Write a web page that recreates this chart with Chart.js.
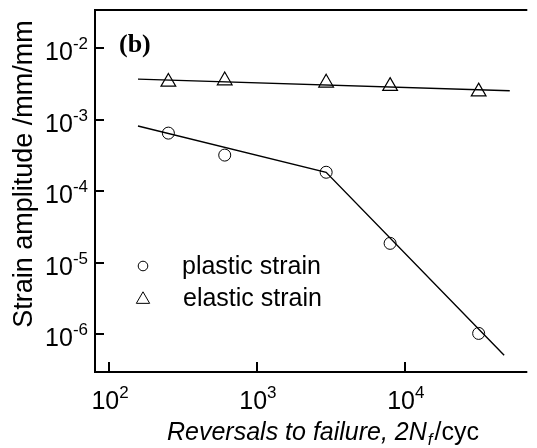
<!DOCTYPE html>
<html>
<head>
<meta charset="utf-8">
<script src="https://cdn.jsdelivr.net/npm/chart.js@4.4.1/dist/chart.umd.min.js"></script>
<style>
  html, body { margin: 0; padding: 0; background: #fff; overflow: hidden; }
  #cv { display: block; }
</style>
</head>
<body>
<canvas id="cv" width="537" height="448"></canvas>
<script>
// reversals to failure, 2Nf
const reversals = [252, 606, 2940, 7960, 31600];
const plasticStrain = [6.5e-4, 3.2e-4, 1.84e-4, 1.86e-5, 1.02e-6];
const elasticStrain = [3.38e-3, 3.54e-3, 3.29e-3, 2.96e-3, 2.48e-3];

// fit lines: plastic is bilinear with a knee, elastic is a single line
const plasticFitX = [157, 2940, 47000];
const plasticFitY = [8.17e-4, 1.84e-4, 5.06e-7];
const elasticFitX = [157, 51300];
const elasticFitY = [3.71e-3, 2.55e-3];

const xTicks = [1e2, 1e3, 1e4];
const yTicks = [1e-2, 1e-3, 1e-4, 1e-5, 1e-6];
const xRange = [80.4, 67400];
const yRange = [2.94e-7, 3.44e-2];

const SANS = '"Liberation Sans", Arial, sans-serif';
const SERIF = '"Liberation Serif", "Times New Roman", serif';

const pts = (xs, ys) => xs.map((v, i) => ({ x: v, y: ys[i] }));

// "10" with a raised exponent; y is the baseline of "10"
function powLabel(ctx, exp, x, y, align) {
  ctx.font = '25px ' + SANS;
  const wb = ctx.measureText('10').width;
  ctx.font = '17px ' + SANS;
  const we = ctx.measureText(exp).width;
  const x0 = align === 'right' ? x - wb - we : x - (wb + we) / 2;
  ctx.textAlign = 'left';
  ctx.textBaseline = 'alphabetic';
  ctx.font = '25px ' + SANS;
  ctx.fillText('10', x0, y);
  ctx.font = '17px ' + SANS;
  ctx.fillText(exp, x0 + wb, y - 11);
}

function triangle(ctx, x, y, r) {
  let rad = 0;
  ctx.beginPath();
  for (let i = 0; i < 3; i++) {
    const px = x + Math.sin(rad) * r, py = y - Math.cos(rad) * r;
    i ? ctx.lineTo(px, py) : ctx.moveTo(px, py);
    rad += Math.PI * 2 / 3;
  }
  ctx.closePath();
  ctx.stroke();
}

const frame = {
  id: 'frame',
  afterDraw(chart) {
    const { ctx, chartArea: a } = chart;
    const sx = chart.scales.x, sy = chart.scales.y;
    ctx.save();
    ctx.strokeStyle = '#000';
    ctx.fillStyle = '#000';

    // open frame: top, left, bottom
    ctx.lineWidth = 2;
    ctx.beginPath();
    ctx.moveTo(a.right, a.top); ctx.lineTo(a.left, a.top);
    ctx.lineTo(a.left, a.bottom); ctx.lineTo(a.right, a.bottom);
    ctx.stroke();

    // inward ticks
    ctx.lineWidth = 2;
    ctx.beginPath();
    xTicks.forEach(v => {
      const px = Math.round(sx.getPixelForValue(v));
      ctx.moveTo(px, a.bottom); ctx.lineTo(px, a.bottom - 10);
    });
    yTicks.forEach(v => {
      const py = Math.round(sy.getPixelForValue(v));
      ctx.moveTo(a.left, py); ctx.lineTo(a.left + 9, py);
    });
    ctx.stroke();

    // tick labels
    xTicks.forEach(v => {
      powLabel(ctx, String(Math.round(Math.log10(v))), sx.getPixelForValue(v) + 1, a.bottom + 37, 'center');
    });
    yTicks.forEach(v => {
      powLabel(ctx, String(Math.round(Math.log10(v))), a.left - 7, sy.getPixelForValue(v) + 12, 'right');
    });

    // x title
    let tx = 167;
    const ty = 440;
    ctx.textAlign = 'left';
    ctx.textBaseline = 'alphabetic';
    ctx.font = 'italic 25px ' + SANS;
    ctx.fillText('Reversals to failure, 2N', tx, ty);
    tx += ctx.measureText('Reversals to failure, 2N').width;
    ctx.font = 'italic 17px ' + SANS;
    ctx.fillText('f', tx + 1, ty + 5);
    tx += ctx.measureText('f').width + 3;
    ctx.font = '25px ' + SANS;
    ctx.fillText('/cyc', tx, ty);

    // y title
    ctx.save();
    ctx.translate(32, 174);
    ctx.rotate(-Math.PI / 2);
    ctx.textAlign = 'center';
    ctx.font = '27px ' + SANS;
    ctx.fillText('Strain amplitude /mm/mm', 0, 0);
    ctx.restore();

    // panel tag
    ctx.font = 'bold 26px ' + SERIF;
    ctx.fillText('(b)', 119, 52);

    // legend
    ctx.lineWidth = 1;
    ctx.beginPath();
    ctx.arc(143, 266, 4.8, 0, Math.PI * 2);
    ctx.stroke();
    triangle(ctx, 143, 299.5, 7.7);
    ctx.font = '25px ' + SANS;
    ctx.fillText('plastic strain', 182, 274);
    ctx.fillText('elastic strain', 183, 306);

    ctx.restore();
  }
};

new Chart(document.getElementById('cv'), {
  type: 'scatter',
  data: {
    datasets: [
      {
        label: 'plastic strain',
        data: pts(reversals, plasticStrain),
        pointStyle: 'circle',
        pointRadius: 6,
        pointBorderWidth: 1,
        borderColor: '#000',
        backgroundColor: 'rgba(0,0,0,0)',
        showLine: false
      },
      {
        label: 'elastic strain',
        data: pts(reversals, elasticStrain),
        pointStyle: 'triangle',
        pointRadius: 8.5,
        pointBorderWidth: 1.2,
        borderColor: '#000',
        backgroundColor: 'rgba(0,0,0,0)',
        showLine: false
      },
      {
        label: 'plastic fit',
        data: pts(plasticFitX, plasticFitY),
        showLine: true,
        pointRadius: 0,
        borderWidth: 1.4,
        borderColor: '#000',
        fill: false
      },
      {
        label: 'elastic fit',
        data: pts(elasticFitX, elasticFitY),
        showLine: true,
        pointRadius: 0,
        borderWidth: 1.4,
        borderColor: '#000',
        fill: false
      }
    ]
  },
  options: {
    responsive: false,
    animation: false,
    devicePixelRatio: 1,
    layout: { padding: { top: 10, right: 0, bottom: 0, left: 0 } },
    plugins: { legend: { display: false }, tooltip: { enabled: false } },
    scales: {
      x: {
        type: 'logarithmic',
        min: xRange[0], max: xRange[1],
        ticks: { display: false },
        grid: { display: false },
        border: { display: false },
        afterFit: s => { s.height = 76; }
      },
      y: {
        type: 'logarithmic',
        min: yRange[0], max: yRange[1],
        ticks: { display: false },
        grid: { display: false },
        border: { display: false },
        afterFit: s => { s.width = 95; }
      }
    }
  },
  plugins: [frame]
});
</script>
</body>
</html>
